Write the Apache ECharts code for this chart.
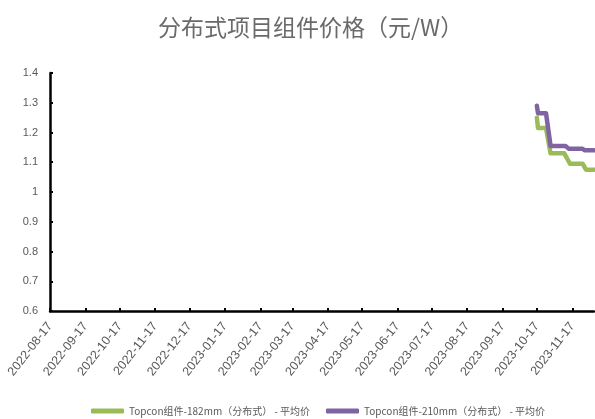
<!DOCTYPE html>
<html>
<head>
<meta charset="utf-8">
<script src="https://cdn.jsdelivr.net/npm/echarts@6/dist/echarts.min.js"></script>
<style>
html,body{margin:0;padding:0;background:#fff;}
#chart{width:595px;height:419px;}
</style>
</head>
<body>
<div id="chart"></div>
<script>
// Axis range (daily date axis) and the monthly tick labels
var startDate = '2022-08-17';
var endDate = '2023-12-06';
var tickLabels = ['2022-08-17','2022-09-17','2022-10-17','2022-11-17','2022-12-17',
  '2023-01-17','2023-02-17','2023-03-17','2023-04-17','2023-05-17','2023-06-17',
  '2023-07-17','2023-08-17','2023-09-17','2023-10-17','2023-11-17'];

// Price series (元/W)
var seriesNames = ['Topcon组件-182mm（分布式） - 平均价', 'Topcon组件-210mm（分布式） - 平均价'];
var dates182 = ['2023-10-17','2023-10-18','2023-10-25','2023-10-29','2023-11-10','2023-11-15','2023-11-26','2023-11-29','2023-12-06'];
var values182 = [1.25, 1.215, 1.215, 1.13, 1.13, 1.095, 1.095, 1.075, 1.075];
var dates210 = ['2023-10-17','2023-10-18','2023-10-25','2023-10-29','2023-11-11','2023-11-14','2023-11-26','2023-11-28','2023-12-06'];
var values210 = [1.29, 1.265, 1.265, 1.155, 1.155, 1.145, 1.145, 1.14, 1.14];

function dayList(a, b) {
  var out = [];
  var d = new Date(a + 'T00:00:00Z');
  var e = new Date(b + 'T00:00:00Z');
  while (d <= e) {
    out.push(d.toISOString().slice(0, 10));
    d.setUTCDate(d.getUTCDate() + 1);
  }
  return out;
}
var categories = dayList(startDate, endDate);
function pairs(ds, vs) { return ds.map(function (d, i) { return [d, vs[i]]; }); }

var tickSet = {};
tickLabels.forEach(function (t) { tickSet[t] = true; });
function isTick(idx, val) { return !!tickSet[val]; }

var textColor = '#595959';
var legendFont = {color: textColor, fontSize: 10, fontFamily: 'Liberation Sans Narrow, Noto Sans CJK SC'};
var chart = echarts.init(document.getElementById('chart'), null, {renderer: 'canvas'});
chart.setOption({
  animation: false,
  backgroundColor: '#fff',
  title: {
    text: '分布式项目组件价格（元/W）',
    left: 153,
    top: 11,
    textStyle: {color: '#6a6a6a', fontSize: 23, fontWeight: 'normal', fontFamily: 'Noto Sans CJK SC'}
  },
  legend: [
    {
      data: [seriesNames[0]], left: 86, top: 401, itemWidth: 33, itemHeight: 5,
      icon: 'roundRect', itemGap: 2, textStyle: legendFont
    },
    {
      data: [seriesNames[1]], left: 321, top: 401, itemWidth: 33, itemHeight: 5,
      icon: 'roundRect', itemGap: 2, textStyle: legendFont
    }
  ],
  grid: {left: 50, right: 1, top: 73, bottom: 108, containLabel: false},
  xAxis: {
    type: 'category',
    data: categories,
    boundaryGap: false,
    axisLine: {lineStyle: {color: '#000', width: 2.5}},
    axisTick: {show: true, inside: true, length: 3, interval: isTick, lineStyle: {color: '#000', width: 2}},
    axisLabel: {
      interval: isTick, rotate: 52, margin: 13, color: textColor, fontSize: 12.5,
      fontFamily: 'Liberation Sans Narrow, Liberation Sans'
    },
    splitLine: {show: false}
  },
  yAxis: {
    type: 'value',
    min: 0.6, max: 1.4, interval: 0.1,
    axisLine: {show: true, lineStyle: {color: '#000', width: 2.5}},
    axisTick: {show: true, inside: true, length: 3, lineStyle: {color: '#000', width: 2}},
    axisLabel: {
      color: textColor, fontSize: 11, margin: 12,
      fontFamily: 'Liberation Sans Narrow, Liberation Sans',
      formatter: function (v) { return String(Math.round(v * 10) / 10); }
    },
    splitLine: {show: false}
  },
  series: [
    {
      name: seriesNames[0], type: 'line', data: pairs(dates182, values182),
      showSymbol: false, symbol: 'none',
      itemStyle: {color: '#9BBB59'},
      lineStyle: {color: '#9BBB59', width: 4.5, cap: 'round', join: 'round'}
    },
    {
      name: seriesNames[1], type: 'line', data: pairs(dates210, values210),
      showSymbol: false, symbol: 'none',
      itemStyle: {color: '#8064A2'},
      lineStyle: {color: '#8064A2', width: 4.5, cap: 'round', join: 'round'}
    }
  ]
});
</script>
</body>
</html>
